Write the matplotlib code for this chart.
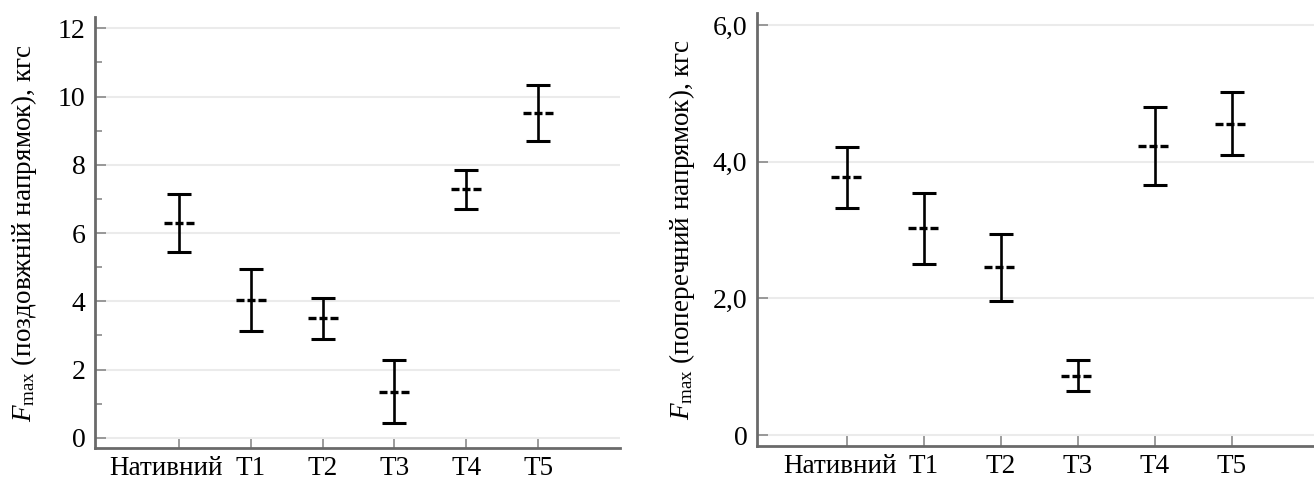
import numpy as np
import matplotlib
matplotlib.use("Agg")
import matplotlib.pyplot as plt
from matplotlib.transforms import ScaledTranslation

plt.rcParams["font.family"] = ["Liberation Serif", "DejaVu Serif"]
plt.rcParams["mathtext.fontset"] = "custom"
plt.rcParams["mathtext.rm"] = "Liberation Serif"
plt.rcParams["mathtext.it"] = "Liberation Serif:italic"

groups = ["Нативний", "T1", "T2", "T3", "T4", "T5"]

# поздовжній напрямок
long_mean = [6.28, 4.03, 3.51, 1.34, 7.28, 9.53]
long_low = [5.43, 3.12, 2.90, 0.42, 6.69, 8.71]
long_high = [7.15, 4.95, 4.11, 2.27, 7.86, 10.35]

# поперечний напрямок
trans_mean = [3.78, 3.03, 2.46, 0.87, 4.23, 4.55]
trans_low = [3.33, 2.50, 1.97, 0.64, 3.66, 4.10]
trans_high = [4.22, 3.54, 2.95, 1.10, 4.80, 5.03]

long_ticks = [0, 2, 4, 6, 8, 10, 12]
long_ticklabels = ["0", "2", "4", "6", "8", "10", "12"]
trans_ticks = [0, 2, 4, 6]
trans_ticklabels = ["0", "2,0", "4,0", "6,0"]

W, H = 1314, 483
fig = plt.figure(figsize=(W / 100, H / 100), dpi=100)


def panel(rect, mean, low, high, ticks, ticklabels, ylim, xlim, ylabel, label_x,
          first_shift, minor=False):
    l, r, b, t = rect
    ax = fig.add_axes([l / W, 1 - b / H, (r - l) / W, (b - t) / H])
    x = np.arange(len(groups))
    mean = np.array(mean)
    yerr = [mean - np.array(low), np.array(high) - mean]
    ax.errorbar(x, mean, yerr=yerr, fmt="none", ecolor="black", elinewidth=1.9,
                capsize=8.5, capthick=2.2, zorder=3)
    ax.hlines(mean, x - 0.21, x + 0.21, colors="black", linewidth=2.4,
              linestyles=(0, (2.4, 0.9)), zorder=4)

    ax.set_xlim(*xlim)
    ax.set_ylim(*ylim)
    ax.set_yticks(ticks)
    ax.set_yticklabels(ticklabels)
    if minor:
        ax.set_yticks(np.arange(1, ticks[-1], 2), minor=True)
    ax.set_xticks(x)
    ax.set_xticklabels(groups)
    ax.grid(axis="y", color="#ebebeb", linewidth=1.5, zorder=0)
    ax.set_axisbelow(True)

    for s in ["top", "right"]:
        ax.spines[s].set_visible(False)
    for s in ["left", "bottom"]:
        ax.spines[s].set_color("#6a6a6a")
        ax.spines[s].set_linewidth(2)
    ax.tick_params(axis="y", which="major", direction="in", length=8, width=1.2,
                   color="#8a8a8a", pad=7, labelsize=20)
    ax.tick_params(axis="y", which="minor", direction="in", length=5, width=1.2,
                   color="#8a8a8a")
    ax.tick_params(axis="x", direction="in", length=8, width=1.2,
                   color="#8a8a8a", pad=6, labelsize=19.5)
    lab = ax.get_xticklabels()[0]
    lab.set_transform(lab.get_transform() +
                      ScaledTranslation(first_shift / 100, 0, fig.dpi_scale_trans))

    cy = 1 - (t + b) / 2 / H
    fig.text(label_x / W, cy, ylabel, rotation=90, ha="center", va="center",
             fontsize=19.5)
    return ax


panel((95, 620, 448, 17), long_mean, long_low, long_high, long_ticks,
      long_ticklabels, (-0.30, 12.33), (-1.17, 6.14),
      r"$F_{\mathrm{max}}$ (поздовжній напрямок), кгс", 24, -13, minor=True)

panel((757, 1314, 446, 13), trans_mean, trans_low, trans_high, trans_ticks,
      trans_ticklabels, (-0.16, 6.18), (-1.165, 6.07),
      r"$F_{\mathrm{max}}$ (поперечний напрямок), кгс", 682, -7)

fig.savefig("out.png", dpi=100)
